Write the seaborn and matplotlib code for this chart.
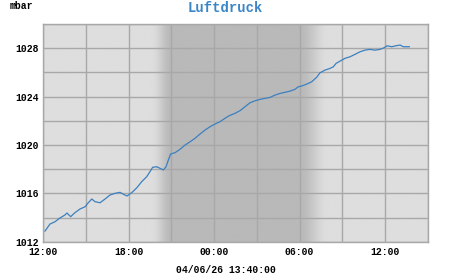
import numpy as np
import pandas as pd
import matplotlib
matplotlib.use("Agg")
import matplotlib.pyplot as plt
import seaborn as sns

# hours since 12:00 on the first day
hours = [0.14, 0.49, 0.84, 1.19, 1.54, 1.68, 1.94, 2.24, 2.59, 2.95, 3.16, 3.42, 3.65, 4.0,
         4.35, 4.70, 5.05, 5.40, 5.61, 5.89, 6.22, 6.57, 6.92, 7.27, 7.50, 7.69, 7.97, 8.20,
         8.44, 8.63, 8.79, 8.95, 9.26, 9.61, 9.96, 10.31, 10.66, 11.01, 11.36, 11.71, 12.06,
         12.41, 12.76, 13.06, 13.46, 13.81, 14.17, 14.52, 14.87, 15.22, 15.57, 15.92, 16.27,
         16.62, 16.97, 17.32, 17.67, 17.90, 18.14, 18.49, 18.84, 19.19, 19.42, 19.78, 20.13,
         20.36, 20.55, 20.83, 21.18, 21.53, 21.88, 22.23, 22.58, 22.93, 23.28, 23.63, 23.91,
         24.14, 24.45, 24.75, 25.04, 25.27, 25.69]
pressure = [1012.88, 1013.46, 1013.65, 1013.96, 1014.21, 1014.37, 1014.07, 1014.40, 1014.70,
            1014.89, 1015.20, 1015.53, 1015.31, 1015.22, 1015.53, 1015.86, 1016.00, 1016.08,
            1015.94, 1015.78, 1016.05, 1016.45, 1016.96, 1017.37, 1017.79, 1018.15, 1018.20,
            1018.07, 1017.93, 1018.20, 1018.75, 1019.25, 1019.36, 1019.64, 1019.99, 1020.26,
            1020.55, 1020.90, 1021.23, 1021.50, 1021.73, 1021.92, 1022.20, 1022.42, 1022.61,
            1022.83, 1023.16, 1023.49, 1023.65, 1023.77, 1023.85, 1023.93, 1024.12, 1024.26,
            1024.35, 1024.45, 1024.60, 1024.81, 1024.87, 1025.03, 1025.22, 1025.59, 1025.96,
            1026.19, 1026.33, 1026.46, 1026.74, 1026.93, 1027.16, 1027.29, 1027.49, 1027.70,
            1027.84, 1027.90, 1027.84, 1027.90, 1028.03, 1028.20, 1028.12, 1028.20, 1028.26,
            1028.12, 1028.12]

x_tick_pos = [0, 6, 12, 18, 24]
x_tick_labels = ["12:00", "18:00", "00:00", "06:00", "12:00"]
y_tick_labels = [1012, 1016, 1020, 1024, 1028]
title = "Luftdruck"
unit = "mbar"
timestamp = "04/06/26 13:40:00"

df = pd.DataFrame({"h": hours, "p": pressure})

mono = ["Liberation Mono", "DejaVu Sans Mono"]
fig = plt.figure(figsize=(4.51, 2.75), dpi=100)
W, H = 451, 275
ax = fig.add_axes([43 / W, 1 - 241.7 / H, (428 - 43) / W, (241.7 - 24) / H])

xmin, xmax, ymin, ymax = 0, 27, 1012, 1030

# night shading gradient
light, dark = 222 / 255, 185 / 255
xs = np.linspace(xmin, xmax, 1000)
def ramp(t):
    t = np.clip(t, 0, 1)
    return t * t * (3 - 2 * t)
left = ramp((xs - 7.6) / (9.0 - 7.6))
right = 1 - ramp((xs - 18.0) / (20.0 - 18.0))
f = np.minimum(left, right)
shade = light + (dark - light) * f
img = np.repeat(shade[None, :, None], 3, axis=2)
ax.imshow(img, extent=[xmin, xmax, ymin, ymax], aspect="auto", zorder=0, interpolation="bilinear")

sns.lineplot(data=df, x="h", y="p", ax=ax, color="#3b80c0", linewidth=0.9, zorder=3)

ax.set_xlim(xmin, xmax)
ax.set_ylim(ymin, ymax)
ax.set_xticks(np.arange(0, 28, 3), minor=True)
ax.set_yticks(np.arange(1012, 1031, 2), minor=True)
ax.set_xticks(x_tick_pos)
ax.set_xticklabels(x_tick_labels, fontfamily=mono, fontweight="bold", fontsize=7)
ax.set_yticks(y_tick_labels)
ax.set_yticklabels([str(v) for v in y_tick_labels], fontfamily=mono, fontweight="bold", fontsize=7)
ax.grid(True, which="both", color="#a8a8a8", linewidth=1.0, zorder=1)
ax.set_axisbelow(False)
ax.tick_params(which="both", length=0)
ax.tick_params(axis="x", pad=4)
ax.tick_params(axis="y", pad=3)
ax.set_xlabel("")
ax.set_ylabel("")
for s in ax.spines.values():
    s.set_color("#a8a8a8")
    s.set_linewidth(1.0)

fig.text(225 / W, 1 - 8 / H, title, ha="center", va="center", fontfamily=mono,
         fontweight="bold", fontsize=10, color="#3a86c6")
fig.text(10 / W, 1 - 6 / H, unit, ha="left", va="center", fontfamily=mono,
         fontweight="bold", fontsize=7, color="black")
fig.text(225.5 / W, 1 - 270 / H, timestamp, ha="center", va="center", fontfamily=mono,
         fontweight="bold", fontsize=7, color="black")

fig.savefig("out.png", dpi=100)
